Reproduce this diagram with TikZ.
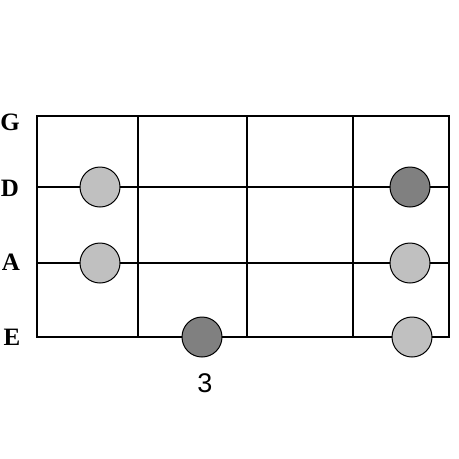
\documentclass[tikz,border=0pt]{standalone}
\usepackage{fontspec}
\setmainfont{Liberation Serif}
\newfontfamily\numfont{Liberation Sans}
\definecolor{lightdot}{HTML}{C0C0C0}
\definecolor{darkdot}{HTML}{808080}
\begin{document}
\begin{tikzpicture}[x=1pt,y=-1pt,
  grid/.style={line width=1.5pt,black},
  lightnote/.style={circle,draw=black,line width=1pt,fill=lightdot,minimum size=40pt,inner sep=0pt},
  darknote/.style={circle,draw=black,line width=1pt,fill=darkdot,minimum size=40pt,inner sep=0pt},
  strlabel/.style={font=\bfseries\fontsize{25}{27}\selectfont,inner sep=0pt},
  fretnum/.style={font=\numfont\fontsize{27}{29}\selectfont,inner sep=0pt}]
\useasboundingbox (0,0) rectangle (459,459);
% frame and frets
\draw[grid] (37,116) rectangle (449,337);
\foreach \x in {138,247,353} \draw[grid] (\x,116) -- (\x,337);
\foreach \y in {187,263} \draw[grid] (37,\y) -- (449,\y);
% string labels
\node[strlabel] (g) at (10,122.5) {G};
\node[strlabel] (d) at (10,188.5) {D};
\node[strlabel] (a) at (11,262.5) {A};
\node[strlabel] (e) at (12,337) {E};
% notes
\node[lightnote] (n1) at (100,187) {};
\node[lightnote] (n2) at (100,263) {};
\node[darknote] (n3) at (202,337) {};
\node[darknote] (n4) at (410,187) {};
\node[lightnote] (n5) at (410,263) {};
\node[lightnote] (n6) at (412,337) {};
% fret number
\node[fretnum] (f3) at (205,383) {3};
\end{tikzpicture}
\end{document}
